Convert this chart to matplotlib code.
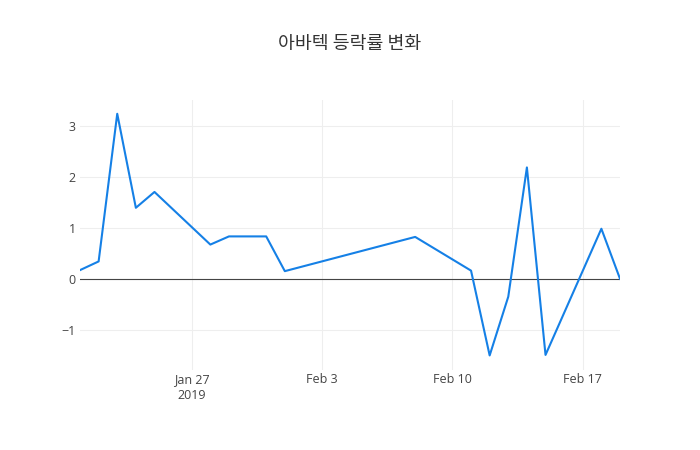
import matplotlib
matplotlib.use('Agg')
import matplotlib.pyplot as plt
import numpy as np
import pandas as pd

dates = ['2019-01-21', '2019-01-22', '2019-01-23', '2019-01-24', '2019-01-25',
         '2019-01-28', '2019-01-29', '2019-01-31', '2019-02-01', '2019-02-08',
         '2019-02-11', '2019-02-12', '2019-02-13', '2019-02-14', '2019-02-15',
         '2019-02-18', '2019-02-19']
change = [0.18, 0.35, 3.24, 1.40, 1.71,
          0.68, 0.84, 0.84, 0.16, 0.83,
          0.17, -1.49, -0.34, 2.19, -1.48,
          0.99, 0.01]

tick_dates = ['2019-01-27', '2019-02-03', '2019-02-10', '2019-02-17']
tick_labels = ['Jan 27\n2019', 'Feb 3', 'Feb 10', 'Feb 17']
y_ticks = [-1, 0, 1, 2, 3]

plt.rcParams['font.family'] = ['Open Sans', 'Noto Sans CJK KR', 'DejaVu Sans']

x = pd.to_datetime(dates)
fig = plt.figure(figsize=(7, 4.5), dpi=100)
ax = fig.add_axes([80 / 700, 80 / 450, 540 / 700, 270 / 450])

ax.plot(x, change, color='#1580e6', lw=1.5, zorder=3)
ax.axhline(0, color='#444444', lw=0.8, zorder=2)

ax.set_xlim(x[0], x[-1])
ax.set_ylim(-1.775, 3.51)
ax.set_xticks(pd.to_datetime(tick_dates))
ax.set_xticklabels(tick_labels, linespacing=1.35)
ax.set_yticks(y_ticks)
ax.set_yticklabels(['\u2212' + str(-v) if v < 0 else str(v) for v in y_ticks])

ax.grid(True, color='#eeeeee', lw=0.8, zorder=0)
ax.tick_params(length=0, labelsize=9, colors='#444444')
ax.tick_params(axis='x', pad=2)
ax.tick_params(axis='y', pad=3)
for s in ax.spines.values():
    s.set_visible(False)

fig.text(350 / 700, 1 - 44 / 450, '아바텍 등락률 변화', ha='center', va='center',
         fontsize=13.2, color='#333333', family=['Noto Sans CJK KR', 'DejaVu Sans'])

plt.savefig('out.png', dpi=100)
